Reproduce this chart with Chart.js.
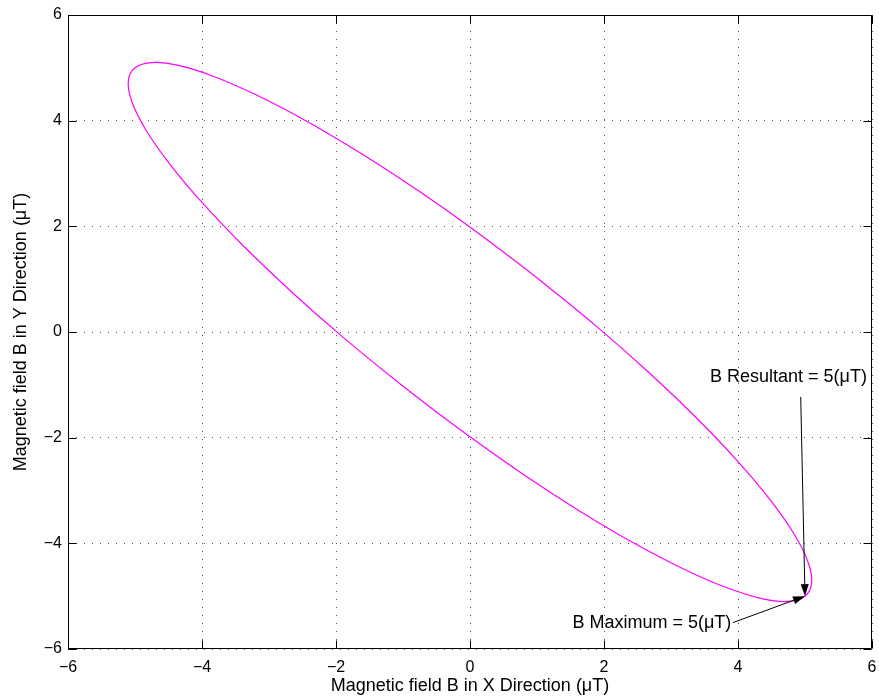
<!DOCTYPE html>
<html><head><meta charset="utf-8">
<script src="https://cdn.jsdelivr.net/npm/chart.js@4/dist/chart.umd.min.js"></script>
<style>html,body{margin:0;padding:0;background:#fff;}#wrap{width:879px;height:697px;}</style>
</head><body><div id="wrap"><canvas id="c" width="879" height="697"></canvas></div>
<script>
// Ellipse traced in the reference (Bx, By in µT)
const bx = [1.013, 0.130, -0.758, -1.623, -2.438, -3.179, -3.824, -4.352, -4.748, -5.000,
            -5.100, -5.045, -4.837, -4.481, -3.990, -3.377, -2.662, -1.866, -1.013, -0.130,
            0.758, 1.623, 2.438, 3.179, 3.824, 4.352, 4.748, 5.000, 5.100, 5.045,
            4.837, 4.481, 3.990, 3.377, 2.662, 1.866, 1.013];
const by = [1.013, 1.866, 2.662, 3.377, 3.990, 4.481, 4.837, 5.045, 5.100, 5.000,
            4.748, 4.352, 3.824, 3.179, 2.438, 1.623, 0.758, -0.130, -1.013, -1.866,
            -2.662, -3.377, -3.990, -4.481, -4.837, -5.045, -5.100, -5.000, -4.748, -4.352,
            -3.824, -3.179, -2.438, -1.623, -0.758, 0.130, 1.013];
const xTicks = [-6, -4, -2, 0, 2, 4, 6];
const yTicks = [-6, -4, -2, 0, 2, 4, 6];
const xTitle = 'Magnetic field B in X Direction (\u03BCT)';
const yTitle = 'Magnetic field B in Y Direction (\u03BCT)';
const noteLabels = ['B Resultant = 5(\u03BCT)', 'B Maximum = 5(\u03BCT)'];
const noteTip = [5, -5];
const noteTail = [[4.936, -1.23], [3.925, -5.50]];
const noteText = [[5.925, -0.85], [3.90, -5.50]];

const FONT = "'Liberation Sans', Arial, Helvetica, sans-serif";
Chart.defaults.font.family = FONT;
const fmt = v => (v < 0 ? '\u2212' + Math.abs(v) : String(v));

const frame = {
  id: 'frame',
  afterDatasetsDraw(chart) {
    const {ctx, chartArea: a, scales: {x, y}} = chart;
    ctx.save();
    ctx.strokeStyle = '#000';
    ctx.lineWidth = 1;
    const L = Math.round(a.left) + 0.5, R = Math.round(a.right) - 0.5;
    const T = Math.round(a.top) + 0.5, B = Math.round(a.bottom) - 0.5;
    ctx.beginPath();
    ctx.rect(L, T, R - L, B - T);
    const tl = 8;
    xTicks.forEach(v => {
      const px = Math.round(x.getPixelForValue(v)) + 0.5;
      ctx.moveTo(px, B); ctx.lineTo(px, B - tl);
      ctx.moveTo(px, T); ctx.lineTo(px, T + tl);
    });
    yTicks.forEach(v => {
      const py = Math.round(y.getPixelForValue(v)) + 0.5;
      ctx.moveTo(L, py); ctx.lineTo(L + tl, py);
      ctx.moveTo(R, py); ctx.lineTo(R - tl, py);
    });
    ctx.stroke();

    // annotations
    ctx.fillStyle = '#000';
    const tx = x.getPixelForValue(noteTip[0]), ty = y.getPixelForValue(noteTip[1]);
    noteLabels.forEach((lab, i) => {
      const sx = x.getPixelForValue(noteTail[i][0]), sy = y.getPixelForValue(noteTail[i][1]);
      const ang = Math.atan2(ty - sy, tx - sx);
      const len = 12, hw = 4;
      const bxp = tx - len * Math.cos(ang), byp = ty - len * Math.sin(ang);
      ctx.beginPath();
      ctx.moveTo(sx, sy); ctx.lineTo(bxp, byp);
      ctx.stroke();
      ctx.beginPath();
      ctx.moveTo(tx, ty);
      ctx.lineTo(bxp + hw * Math.sin(ang), byp - hw * Math.cos(ang));
      ctx.lineTo(bxp - hw * Math.sin(ang), byp + hw * Math.cos(ang));
      ctx.closePath();
      ctx.fill();
      ctx.font = '18px ' + FONT;
      ctx.textAlign = 'right';
      ctx.textBaseline = 'middle';
      ctx.fillText(lab, x.getPixelForValue(noteText[i][0]), y.getPixelForValue(noteText[i][1]));
    });
    ctx.restore();
  }
};

new Chart(document.getElementById('c'), {
  type: 'scatter',
  data: {
    datasets: [{
      data: bx.map((v, i) => ({x: v, y: by[i]})),
      showLine: true,
      borderColor: '#ff00ff',
      borderWidth: 1.2,
      pointRadius: 0,
      tension: 0.4,
      fill: false
    }]
  },
  options: {
    responsive: false,
    animation: false,
    devicePixelRatio: 1,
    layout: {padding: {top: 15, right: 7, left: 0, bottom: 0}},
    plugins: {legend: {display: false}, tooltip: {enabled: false}},
    scales: {
      x: {
        type: 'linear', min: -6, max: 6,
        afterBuildTicks: s => { s.ticks = xTicks.map(v => ({value: v})); },
        afterFit: s => { s.height = 48; s.paddingLeft = 0; s.paddingRight = 0; },
        ticks: {callback: v => fmt(v), color: '#000', font: {size: 16}, padding: 9, maxRotation: 0, autoSkip: false},
        grid: {color: '#555', drawTicks: false, lineWidth: 1},
        border: {display: false, dash: [1, 7]},
        title: {display: true, text: xTitle, color: '#000', font: {size: 18}, padding: {top: 0, bottom: 0}}
      },
      y: {
        type: 'linear', min: -6, max: 6,
        afterBuildTicks: s => { s.ticks = yTicks.map(v => ({value: v})); },
        afterFit: s => { s.width = 68; s.paddingTop = 0; s.paddingBottom = 0; },
        ticks: {callback: v => fmt(v), color: '#000', font: {size: 16}, padding: 6, autoSkip: false},
        grid: {color: '#555', drawTicks: false, lineWidth: 1},
        border: {display: false, dash: [1, 7]},
        title: {display: true, text: yTitle, color: '#000', font: {size: 18}, padding: {top: 10, bottom: 0}}
      }
    }
  },
  plugins: [frame]
});
</script>
</body></html>
